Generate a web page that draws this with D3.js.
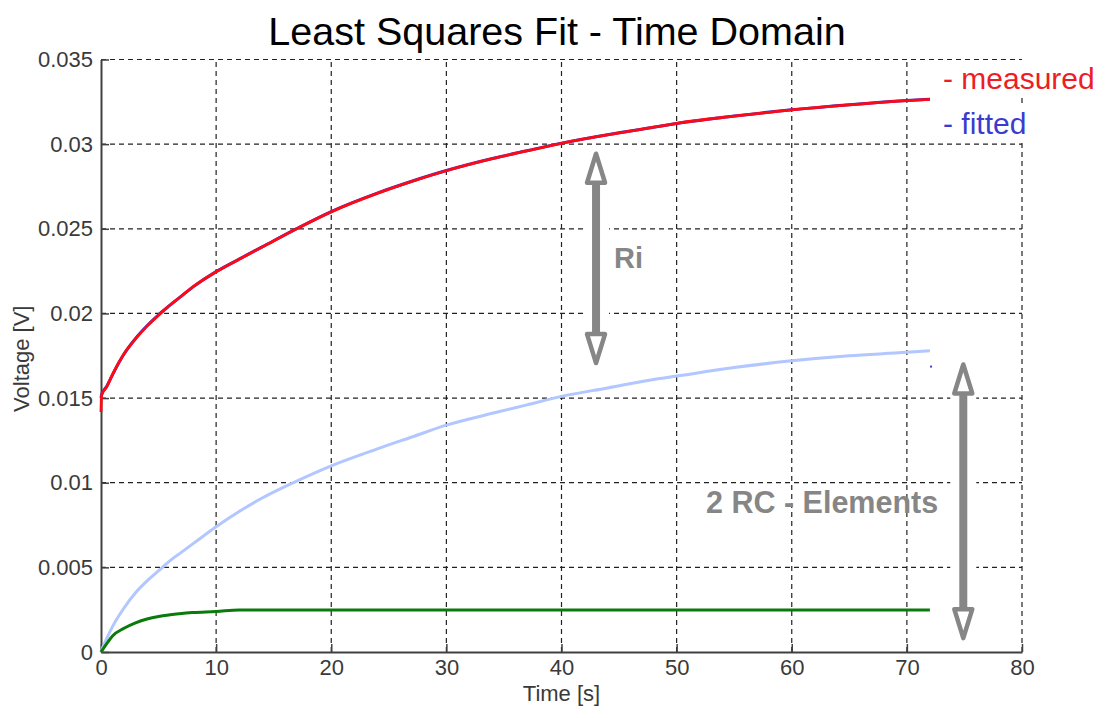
<!DOCTYPE html>
<html>
<head>
<meta charset="utf-8">
<script src="https://cdn.jsdelivr.net/npm/d3@7"></script>
<style>
  html, body { margin: 0; padding: 0; background: #fff; }
  svg { display: block; }
  text { font-family: "Liberation Sans", Arial, sans-serif; }
</style>
</head>
<body>
<svg id="chart" width="1107" height="718"></svg>
<script>
// Sample times [s]
const time = [0, 0.05, 0.5, 1, 2, 3, 4, 5, 6, 7, 8, 10, 12, 14, 17, 20, 24, 27, 30, 34, 37, 40, 44, 48, 50, 55, 60, 65, 70, 72];

// Measured terminal voltage [V]
const measured = [0.01418, 0.01517, 0.01566, 0.01640, 0.01762, 0.01850, 0.01925, 0.01990, 0.02050, 0.02103,
  0.02158, 0.02246, 0.02320, 0.02392, 0.02500, 0.02600, 0.02709, 0.02780, 0.02843, 0.02914,
  0.02960, 0.03005, 0.03055, 0.03100, 0.03123, 0.03165, 0.03202, 0.03232, 0.03257, 0.03265];

// Fitted model voltage [V]
const fitted = [0.01500, 0.01520, 0.01570, 0.01638, 0.01760, 0.01852, 0.01927, 0.01992, 0.02049, 0.02104,
  0.02157, 0.02247, 0.02321, 0.02393, 0.02501, 0.02602, 0.02711, 0.02781, 0.02844, 0.02915,
  0.02961, 0.03006, 0.03056, 0.03100, 0.03122, 0.03166, 0.03203, 0.03233, 0.03258, 0.03266];

// Slow RC element voltage [V]
const rcSlow = [0, 0.0001, 0.0008, 0.0015, 0.0026, 0.0035, 0.0042, 0.0048, 0.0054, 0.0059,
  0.0064, 0.0074, 0.0083, 0.0091, 0.0101, 0.0110, 0.0120, 0.0127, 0.0134, 0.0141,
  0.0146, 0.0151, 0.0156, 0.0161, 0.0163, 0.0168, 0.0172, 0.0175, 0.0177, 0.0178];

// Fast RC element voltage [V]
const rcFast = [0, 0.00005, 0.0005, 0.00095, 0.0014, 0.00172, 0.00195, 0.0021, 0.0022, 0.00228,
  0.00233, 0.00239, 0.00248, 0.00248, 0.00248, 0.00248, 0.00248, 0.00248, 0.00248, 0.00248,
  0.00248, 0.00248, 0.00248, 0.00248, 0.00248, 0.00248, 0.00248, 0.00248, 0.00248, 0.00248];

// Stray fitted sample after the end of the record
const fittedTail = [{ t: 72.1, v: 0.01686 }];

const xTicks = [0, 10, 20, 30, 40, 50, 60, 70, 80];
const yTicks = [0, 0.005, 0.01, 0.015, 0.02, 0.025, 0.03, 0.035];
const yTickLabels = ["0", "0.005", "0.01", "0.015", "0.02", "0.025", "0.03", "0.035"];

// Annotation arrows in data units: [t, vTop, vBottom]
const riArrow = [43.0, 0.02955, 0.01695];
const rcArrow = [74.9, 0.01710, 0.00070];

const svg = d3.select("#chart");
const x = d3.scaleLinear().domain([0, 80]).range([101, 1022]);
const y = d3.scaleLinear().domain([0, 0.035]).range([652, 59.5]);

// Title
svg.append("text")
  .attr("x", 557).attr("y", 45)
  .attr("text-anchor", "middle")
  .attr("font-size", 39.5)
  .attr("fill", "#000")
  .text("Least Squares Fit - Time Domain");

// Dashed grid
const grid = svg.append("g")
  .attr("stroke", "#222")
  .attr("stroke-width", 1.2)
  .attr("stroke-dasharray", "5,4");
grid.selectAll("line.v").data(xTicks.filter(d => d > 0)).join("line")
  .attr("x1", d => x(d)).attr("x2", d => x(d))
  .attr("y1", y(0)).attr("y2", y(0.035));
grid.selectAll("line.h").data(yTicks.filter(d => d > 0)).join("line")
  .attr("x1", x(0)).attr("x2", x(80))
  .attr("y1", d => y(d)).attr("y2", d => y(d));

// Axes with inward ticks
const xAxis = d3.axisBottom(x).tickValues(xTicks).tickFormat(d3.format("d"))
  .tickSizeInner(-8).tickSizeOuter(0).tickPadding(7);
const yAxis = d3.axisLeft(y).tickValues(yTicks).tickFormat((d, i) => yTickLabels[i])
  .tickSizeInner(-8).tickSizeOuter(0).tickPadding(8);

function styleAxis(g) {
  g.select(".domain").attr("stroke", "#404040").attr("stroke-width", 2);
  g.selectAll(".tick line").attr("stroke", "#404040").attr("stroke-width", 1.5);
  g.selectAll(".tick text").attr("font-size", 22).attr("fill", "#3a3a3a")
    .attr("font-family", "'Liberation Sans', Arial, sans-serif");
}
svg.append("g").attr("transform", `translate(0,${y(0)})`).call(xAxis).call(styleAxis);
svg.append("g").attr("transform", `translate(${x(0)},0)`).call(yAxis).call(styleAxis);

// Axis labels
svg.append("text")
  .attr("x", x(40)).attr("y", 701)
  .attr("text-anchor", "middle").attr("font-size", 22).attr("fill", "#3a3a3a")
  .text("Time [s]");
svg.append("text")
  .attr("transform", `translate(29,${y(0.0175) + 3}) rotate(-90)`)
  .attr("text-anchor", "middle").attr("font-size", 22).attr("fill", "#3a3a3a")
  .text("Voltage [V]");

// Curves
const idx = d3.range(time.length);
const lineOf = arr => d3.line().x(i => x(time[i])).y(i => y(arr[i])).curve(d3.curveMonotoneX)(idx);

svg.append("path").attr("d", lineOf(rcSlow))
  .attr("fill", "none").attr("stroke", "#b2c6ff").attr("stroke-width", 3);
svg.append("path").attr("d", lineOf(rcFast))
  .attr("fill", "none").attr("stroke", "#0a7a0a").attr("stroke-width", 3);
svg.append("path").attr("d", lineOf(fitted))
  .attr("fill", "none").attr("stroke", "#2a2ad8").attr("stroke-width", 3);
svg.append("path").attr("d", lineOf(measured))
  .attr("fill", "none").attr("stroke", "#ff0a14").attr("stroke-width", 2.8);

svg.selectAll("rect.tail").data(fittedTail).join("rect")
  .attr("x", d => x(d.t) - 1).attr("y", d => y(d.v) - 1)
  .attr("width", 2).attr("height", 2).attr("fill", "#4040d0");

// Legend text on white background
svg.append("rect").attr("x", 934).attr("y", 60).attr("width", 173).attr("height", 38).attr("fill", "#fff");
svg.append("rect").attr("x", 936).attr("y", 105).attr("width", 100).attr("height", 36).attr("fill", "#fff");
svg.append("text").attr("x", 943).attr("y", 89).attr("font-size", 30).attr("fill", "#ee1c25")
  .text("- measured");
svg.append("text").attr("x", 943).attr("y", 134).attr("font-size", 30).attr("fill", "#3b3bd0")
  .text("- fitted");

// Double-headed arrows with hollow heads
function arrow(spec) {
  const [t, vTop, vBot] = spec;
  const cx = x(t), yt = y(vTop), yb = y(vBot);
  const headH = 31, headW = 9;
  const g = svg.append("g");
  g.append("rect").attr("x", cx - 13).attr("y", yt - 2).attr("width", 26).attr("height", yb - yt + 4)
    .attr("fill", "#fff");
  g.append("line").attr("x1", cx).attr("x2", cx)
    .attr("y1", yt + headH).attr("y2", yb - headH)
    .attr("stroke", "#868686").attr("stroke-width", 8);
  const tri = (tipY, baseY) => `M${cx},${tipY}L${cx + headW},${baseY}L${cx - headW},${baseY}Z`;
  g.append("path").attr("d", tri(yt + 2, yt + headH))
    .attr("fill", "#fff").attr("stroke", "#868686").attr("stroke-width", 4.5).attr("stroke-linejoin", "round");
  g.append("path").attr("d", tri(yb - 2, yb - headH))
    .attr("fill", "#fff").attr("stroke", "#868686").attr("stroke-width", 4.5).attr("stroke-linejoin", "round");
}
arrow(riArrow);
arrow(rcArrow);

svg.append("text").attr("x", 614).attr("y", 268)
  .attr("font-size", 29).attr("font-weight", "bold").attr("fill", "#868686")
  .text("Ri");
svg.append("text").attr("x", 706).attr("y", 513)
  .attr("font-size", 30.5).attr("font-weight", "bold").attr("fill", "#868686")
  .text("2 RC - Elements");
</script>
</body>
</html>
